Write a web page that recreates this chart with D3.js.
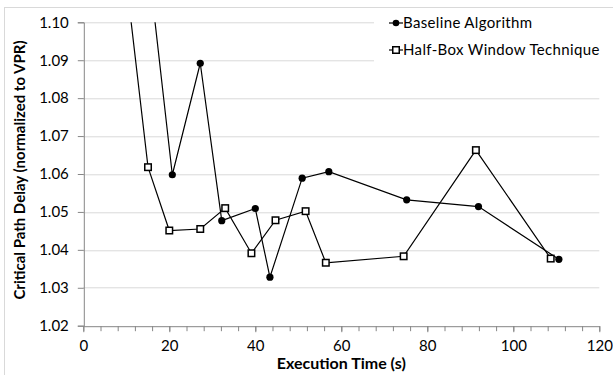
<!DOCTYPE html>
<html>
<head>
<meta charset="utf-8">
<script src="https://cdn.jsdelivr.net/npm/d3@7"></script>
<style>
  body { margin: 0; background: #fff; }
  svg text { font-family: Lato, "Liberation Sans", sans-serif; fill: #000; }
</style>
</head>
<body>
<div id="chart"></div>
<script>
"use strict";

// values
const seriesNames = ["Baseline Algorithm", "Half-Box Window Technique"];
const baselineTime = [11.7, 20.7, 27.2, 32.2, 40.0, 43.4, 50.9, 57.1, 75.2, 91.9, 110.6];
const baselineDelay = [1.15, 1.0598, 1.0892, 1.0477, 1.0509, 1.0328, 1.0589, 1.0606, 1.0532, 1.0514, 1.0375];
const halfBoxTime = [6.0, 15.05, 20.0, 27.2, 33.0, 39.1, 44.7, 51.7, 56.4, 74.5, 91.3, 108.7];
const halfBoxDelay = [1.15, 1.0618, 1.0451, 1.0455, 1.0510, 1.0391, 1.0478, 1.0502, 1.0366, 1.0383, 1.0663, 1.0377];
const xTicks = [0, 20, 40, 60, 80, 100, 120];
const yTicks = [1.02, 1.03, 1.04, 1.05, 1.06, 1.07, 1.08, 1.09, 1.10];

const svgWidth = 613;
const svgHeight = 375;
const margin = {top: 22.3, right: 13.7, bottom: 49.3, left: 83.3};
const plotW = svgWidth - margin.left - margin.right;
const plotH = svgHeight - margin.top - margin.bottom;
const boxSize = 6.5;

const baseline = baselineTime.map((t, i) => ({x: t, y: baselineDelay[i]}));
const halfBox = halfBoxTime.map((t, i) => ({x: t, y: halfBoxDelay[i]}));

const svg = d3.select("#chart")
  .append("svg")
  .attr("width", svgWidth)
  .attr("height", svgHeight)
;

// chart area border
svg.append("rect")
  .attr("x", 4.5)
  .attr("y", 7.5)
  .attr("width", svgWidth + 10)
  .attr("height", svgHeight + 10)
  .attr("fill", "none")
  .attr("stroke", "#d9d9d9")
;

const xScale = d3.scaleLinear().domain([0, 120]).range([0, plotW]);
const yScale = d3.scaleLinear().domain([1.02, 1.10]).range([plotH, 0]);

const g = svg.append("g")
  .attr("transform", `translate(${margin.left}, ${margin.top})`)
;

// horizontal gridlines
g.append("g")
  .selectAll("line")
  .data(yTicks.slice(1))
  .enter()
  .append("line")
  .attr("x1", 0)
  .attr("x2", plotW)
  .attr("y1", d => Math.round(yScale(d)) + 0.5)
  .attr("y2", d => Math.round(yScale(d)) + 0.5)
  .attr("stroke", "#d9d9d9")
;

// y axis
const yAxis = d3.axisLeft(yScale)
  .tickValues(yTicks)
  .tickFormat(d3.format(".2f"))
  .tickSize(6)
  .tickPadding(9)
;
const yG = g.append("g")
  .attr("transform", "translate(0.5, 0)")
  .call(yAxis)
;
yG.select(".domain").attr("stroke", "#868686");
yG.selectAll(".tick line").attr("stroke", "#868686");
yG.selectAll("text").style("font-size", "15px").attr("fill", "#000");

// x axis with minor ticks every 4 s
const xMinor = d3.axisBottom(xScale)
  .tickValues(d3.range(0, 121, 4))
  .tickFormat("")
  .tickSize(5)
  .tickSizeOuter(0)
;
const xMinorG = g.append("g")
  .attr("transform", `translate(0, ${plotH + 0.5})`)
  .call(xMinor)
;
xMinorG.select(".domain").attr("stroke", "#868686");
xMinorG.selectAll(".tick line").attr("stroke", "#868686");

const xAxis = d3.axisBottom(xScale)
  .tickValues(xTicks)
  .tickFormat(d3.format("d"))
  .tickSize(6)
  .tickPadding(8)
;
const xG = g.append("g")
  .attr("transform", `translate(0, ${plotH + 0.5})`)
  .call(xAxis)
;
xG.select(".domain").remove();
xG.selectAll(".tick line").attr("stroke", "#868686");
xG.selectAll("text").style("font-size", "15px").attr("fill", "#000");

// axis titles
g.append("text")
  .attr("x", plotW / 2)
  .attr("y", plotH + 43)
  .attr("text-anchor", "middle")
  .style("font-size", "16px")
  .style("font-weight", "bold")
  .text("Execution Time (s)")
;
g.append("text")
  .attr("transform", `translate(${-58}, ${plotH / 2 - 4}) rotate(-90)`)
  .attr("text-anchor", "middle")
  .style("font-size", "15px")
  .style("font-weight", "bold")
  .text("Critical Path Delay (normalized to VPR)")
;

// legend background hides the gridlines behind it
svg.append("rect")
  .attr("x", 374)
  .attr("y", 9)
  .attr("width", 230)
  .attr("height", 54)
  .attr("fill", "#fff")
;

// series, clipped to the plot area
g.append("clipPath")
  .attr("id", "plot-clip")
  .append("rect")
  .attr("x", -6)
  .attr("y", 0)
  .attr("width", plotW + 12)
  .attr("height", plotH + 6)
;

const line = d3.line()
  .x(d => xScale(d.x))
  .y(d => yScale(d.y))
;

const series = g.append("g").attr("clip-path", "url(#plot-clip)");

series.append("path")
  .datum(baseline)
  .attr("d", line)
  .attr("fill", "none")
  .attr("stroke", "#000")
  .attr("stroke-width", 1.2)
;
series.append("path")
  .datum(halfBox)
  .attr("d", line)
  .attr("fill", "none")
  .attr("stroke", "#000")
  .attr("stroke-width", 1.2)
;

series.selectAll("circle")
  .data(baseline)
  .enter()
  .append("circle")
  .attr("cx", d => xScale(d.x))
  .attr("cy", d => yScale(d.y))
  .attr("r", 3.6)
  .attr("fill", "#000")
;

series.selectAll("rect.box")
  .data(halfBox)
  .enter()
  .append("rect")
  .attr("class", "box")
  .attr("x", d => xScale(d.x) - boxSize / 2)
  .attr("y", d => yScale(d.y) - boxSize / 2)
  .attr("width", boxSize)
  .attr("height", boxSize)
  .attr("fill", "#fff")
  .attr("stroke", "#000")
  .attr("stroke-width", 1.5)
;

// legend
const legend = svg.append("g").attr("transform", "translate(389, 23)");
const rows = legend.selectAll("g")
  .data(seriesNames)
  .enter()
  .append("g")
  .attr("transform", (d, i) => `translate(0, ${i * 27})`)
;
rows.append("line")
  .attr("x1", 0)
  .attr("x2", 14)
  .attr("stroke", "#000")
  .attr("stroke-width", 1.2)
;
rows.filter((d, i) => i === 0)
  .append("circle")
  .attr("cx", 7)
  .attr("r", 3.3)
  .attr("fill", "#000")
;
rows.filter((d, i) => i === 1)
  .append("rect")
  .attr("x", 7 - boxSize / 2)
  .attr("y", -boxSize / 2)
  .attr("width", boxSize)
  .attr("height", boxSize)
  .attr("fill", "#fff")
  .attr("stroke", "#000")
  .attr("stroke-width", 1.5)
;
rows.append("text")
  .attr("x", 14)
  .attr("dy", "0.35em")
  .style("font-size", "15px")
  .style("letter-spacing", "0.35px")
  .text(d => d)
;
</script>
</body>
</html>
